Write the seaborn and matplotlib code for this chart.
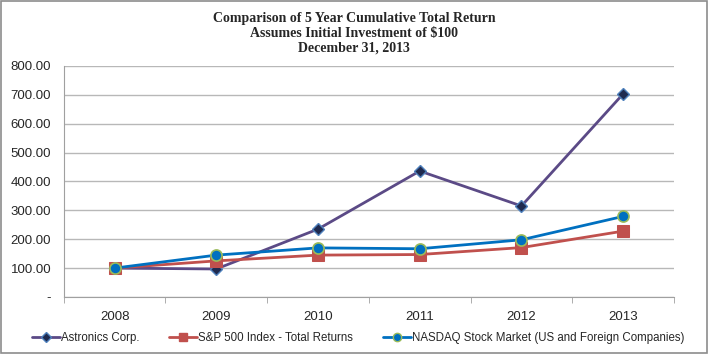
# Libraries
# ===================================================
import pandas as pd
import seaborn as sns
import matplotlib.pyplot as plt
import matplotlib.lines as mlines
from matplotlib.patches import Rectangle
from matplotlib.ticker import FixedLocator, FuncFormatter

# Data
# ===================================================
years = ['2008', '2009', '2010', '2011', '2012', '2013']
astronics = [100.00, 97.00, 235.00, 436.00, 315.00, 703.00]
sp500 = [100.00, 125.00, 145.00, 147.00, 171.00, 228.00]
nasdaq = [100.00, 145.00, 170.00, 167.00, 198.00, 279.00]

df = pd.DataFrame({'pos': range(len(years)), 'year': years,
                   'astronics': astronics, 'sp500': sp500, 'nasdaq': nasdaq})

# Visualization
# ===================================================
sns.set_style('white')
plt.rcParams['font.family'] = ['Liberation Sans', 'DejaVu Sans']

fig = plt.figure(figsize=(7.08, 3.54), dpi=100)
ax = fig.add_axes([0.090, 0.161, 0.862, 0.653])

sns.lineplot(data=df, x='pos', y='astronics', ax=ax, color='#5B4A86', linewidth=2,
             marker='D', markersize=6, markerfacecolor='#1F2A4F', markeredgecolor='#4F81BD',
             markeredgewidth=1)
sns.lineplot(data=df, x='pos', y='sp500', ax=ax, color='#C0504D', linewidth=2,
             marker='s', markersize=8, markerfacecolor='#C0504D', markeredgecolor='#C0504D')
sns.lineplot(data=df, x='pos', y='nasdaq', ax=ax, color='#0070C0', linewidth=2,
             marker='o', markersize=8, markerfacecolor='#0070C0', markeredgecolor='#9BBB59',
             markeredgewidth=1.2)

# Axes
ax.set_ylim(0, 800)
ax.set_xlim(-0.5, len(years) - 0.5)
ax.set_yticks(range(0, 801, 100))
ax.yaxis.set_major_formatter(FuncFormatter(lambda v, p: '-' if v == 0 else f'{v:.2f}'))
ax.set_xticks(range(len(years)))
ax.set_xticklabels(years)
ax.xaxis.set_minor_locator(FixedLocator([i - 0.5 for i in range(len(years) + 1)]))
ax.tick_params(axis='x', which='major', length=0, pad=10, labelsize=9.5)
ax.tick_params(axis='x', which='minor', length=4, color='#A0A0A0', bottom=True)
ax.tick_params(axis='y', length=0, labelsize=9.5, pad=9)
ax.grid(axis='y', color='#B8B8B8', linewidth=1)
ax.set_xlabel('')
ax.set_ylabel('')
for side in ['top', 'right']:
    ax.spines[side].set_visible(False)
for side in ['left', 'bottom']:
    ax.spines[side].set_color('#A0A0A0')

# Title
fig.text(0.5, 0.965, 'Comparison of 5 Year Cumulative Total Return\nAssumes Initial Investment of $100\nDecember 31, 2013',
         ha='center', va='top', fontsize=10, fontweight='bold', linespacing=1.15,
         family=['Liberation Serif', 'DejaVu Serif'])

# Legend
h1 = mlines.Line2D([], [], color='#5B4A86', linewidth=2, marker='D', markersize=5,
                   markerfacecolor='#1F2A4F', markeredgecolor='#4F81BD', label='Astronics Corp.')
h2 = mlines.Line2D([], [], color='#C0504D', linewidth=2, marker='s', markersize=6,
                   markerfacecolor='#C0504D', markeredgecolor='#C0504D', label='S&P 500 Index - Total Returns')
h3 = mlines.Line2D([], [], color='#0070C0', linewidth=2, marker='o', markersize=6,
                   markerfacecolor='#0070C0', markeredgecolor='#9BBB59',
                   label='NASDAQ Stock Market (US and Foreign Companies)')
fig.legend(handles=[h1, h2, h3], loc='center', bbox_to_anchor=(0.506, 0.045), ncol=3,
           frameon=False, fontsize=8.3, handlelength=2.4, handletextpad=0.1, columnspacing=2.6)

# Border
fig.patches.append(Rectangle((0.001, 0.002), 0.997, 0.996, transform=fig.transFigure,
                             fill=False, edgecolor='#8C8C8C', linewidth=1.2))

plt.savefig('out.png', dpi=100)
